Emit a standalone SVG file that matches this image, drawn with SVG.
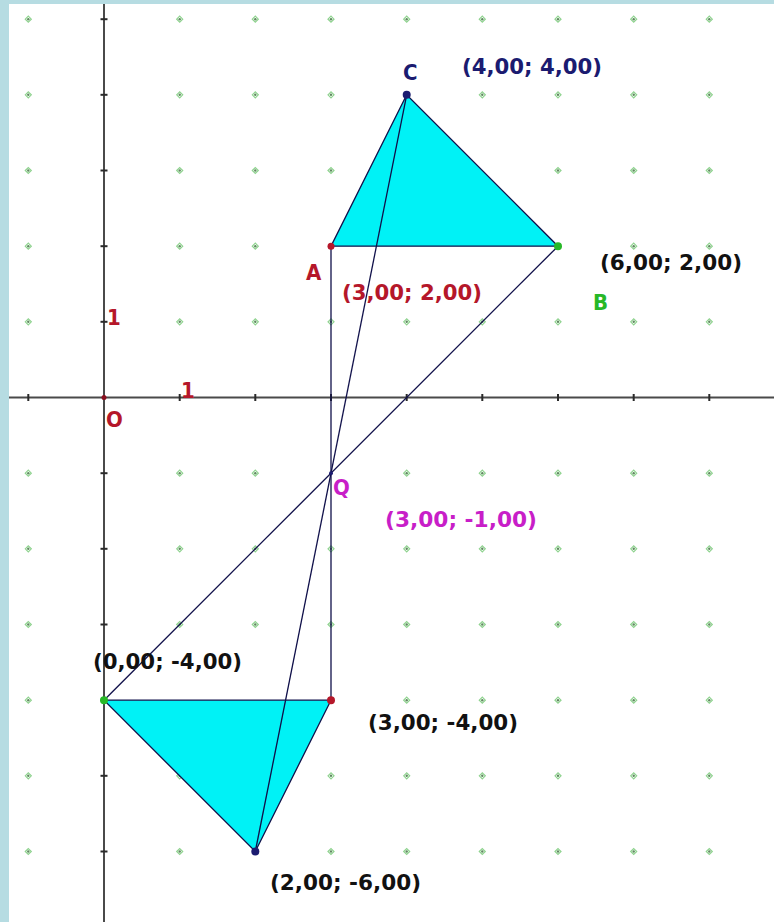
<svg xmlns="http://www.w3.org/2000/svg" xmlns:xlink="http://www.w3.org/1999/xlink" width="774" height="922" viewBox="0 0 774 922">
<style>
text{font-family:"DejaVu Sans Condensed","DejaVu Sans","Liberation Sans",sans-serif;font-weight:bold;font-size:21px}
.big{font-size:22px}
.axis{stroke:#4a4a4a;stroke-width:2;fill:none}
.tick{stroke:#2a2a2a;stroke-width:2}
.seg{stroke:#10104a;stroke-width:1.3;fill:none}
.tri{fill:#00f2f6;stroke:#10104a;stroke-width:1.3}
.red{fill:#b5172a}.navy{fill:#1b1b70}.green{fill:#27b827}.mag{fill:#c81ec8}.blk{fill:#111}
</style>
<defs>
<g id="dot"><path d="M-3 0L0 -3L3 0L0 3Z" fill="none" stroke="#8fd38f" stroke-width="1.2"/><circle r="1.2" fill="#5f8a5f"/></g>
<g id="tx"><line x1="0" y1="-3.5" x2="0" y2="3.5" class="tick"/></g>
<g id="ty"><line x1="-3.5" y1="0" x2="3.5" y2="0" class="tick"/></g>
</defs>
<rect width="774" height="922" fill="#ffffff"/>
<rect x="0" y="0" width="774" height="4" fill="#b6dce2"/>
<rect x="0" y="0" width="9" height="922" fill="#b6dce2"/>
<g id="grid">
<use href="#dot" x="28.3" y="19.2"/><use href="#dot" x="179.7" y="19.2"/><use href="#dot" x="255.3" y="19.2"/><use href="#dot" x="331" y="19.2"/><use href="#dot" x="406.7" y="19.2"/><use href="#dot" x="482.3" y="19.2"/><use href="#dot" x="558" y="19.2"/><use href="#dot" x="633.7" y="19.2"/><use href="#dot" x="709.3" y="19.2"/>
<use href="#dot" x="28.3" y="94.8"/><use href="#dot" x="179.7" y="94.8"/><use href="#dot" x="255.3" y="94.8"/><use href="#dot" x="331" y="94.8"/><use href="#dot" x="482.3" y="94.8"/><use href="#dot" x="558" y="94.8"/><use href="#dot" x="633.7" y="94.8"/><use href="#dot" x="709.3" y="94.8"/>
<use href="#dot" x="28.3" y="170.5"/><use href="#dot" x="179.7" y="170.5"/><use href="#dot" x="255.3" y="170.5"/><use href="#dot" x="331" y="170.5"/><use href="#dot" x="558" y="170.5"/><use href="#dot" x="633.7" y="170.5"/><use href="#dot" x="709.3" y="170.5"/>
<use href="#dot" x="28.3" y="246.2"/><use href="#dot" x="179.7" y="246.2"/><use href="#dot" x="255.3" y="246.2"/><use href="#dot" x="633.7" y="246.2"/><use href="#dot" x="709.3" y="246.2"/>
<use href="#dot" x="28.3" y="321.8"/><use href="#dot" x="179.7" y="321.8"/><use href="#dot" x="255.3" y="321.8"/><use href="#dot" x="331" y="321.8"/><use href="#dot" x="406.7" y="321.8"/><use href="#dot" x="482.3" y="321.8"/><use href="#dot" x="558" y="321.8"/><use href="#dot" x="633.7" y="321.8"/><use href="#dot" x="709.3" y="321.8"/>
<use href="#dot" x="28.3" y="473.2"/><use href="#dot" x="179.7" y="473.2"/><use href="#dot" x="255.3" y="473.2"/><use href="#dot" x="406.7" y="473.2"/><use href="#dot" x="482.3" y="473.2"/><use href="#dot" x="558" y="473.2"/><use href="#dot" x="633.7" y="473.2"/><use href="#dot" x="709.3" y="473.2"/>
<use href="#dot" x="28.3" y="548.8"/><use href="#dot" x="179.7" y="548.8"/><use href="#dot" x="255.3" y="548.8"/><use href="#dot" x="331" y="548.8"/><use href="#dot" x="406.7" y="548.8"/><use href="#dot" x="482.3" y="548.8"/><use href="#dot" x="558" y="548.8"/><use href="#dot" x="633.7" y="548.8"/><use href="#dot" x="709.3" y="548.8"/>
<use href="#dot" x="28.3" y="624.5"/><use href="#dot" x="179.7" y="624.5"/><use href="#dot" x="255.3" y="624.5"/><use href="#dot" x="331" y="624.5"/><use href="#dot" x="406.7" y="624.5"/><use href="#dot" x="482.3" y="624.5"/><use href="#dot" x="558" y="624.5"/><use href="#dot" x="633.7" y="624.5"/><use href="#dot" x="709.3" y="624.5"/>
<use href="#dot" x="28.3" y="700.2"/><use href="#dot" x="406.7" y="700.2"/><use href="#dot" x="482.3" y="700.2"/><use href="#dot" x="558" y="700.2"/><use href="#dot" x="633.7" y="700.2"/><use href="#dot" x="709.3" y="700.2"/>
<use href="#dot" x="28.3" y="775.8"/><use href="#dot" x="179.7" y="775.8"/><use href="#dot" x="331" y="775.8"/><use href="#dot" x="406.7" y="775.8"/><use href="#dot" x="482.3" y="775.8"/><use href="#dot" x="558" y="775.8"/><use href="#dot" x="633.7" y="775.8"/><use href="#dot" x="709.3" y="775.8"/>
<use href="#dot" x="28.3" y="851.5"/><use href="#dot" x="179.7" y="851.5"/><use href="#dot" x="331" y="851.5"/><use href="#dot" x="406.7" y="851.5"/><use href="#dot" x="482.3" y="851.5"/><use href="#dot" x="558" y="851.5"/><use href="#dot" x="633.7" y="851.5"/><use href="#dot" x="709.3" y="851.5"/>
</g>
<g id="axes">
<line x1="9" y1="397.5" x2="774" y2="397.5" class="axis"/>
<line x1="104" y1="4" x2="104" y2="922" class="axis"/>
<use href="#tx" x="28.3" y="397.5"/><use href="#tx" x="179.7" y="397.5"/><use href="#tx" x="255.3" y="397.5"/><use href="#tx" x="331" y="397.5"/><use href="#tx" x="406.7" y="397.5"/><use href="#tx" x="482.3" y="397.5"/><use href="#tx" x="558" y="397.5"/><use href="#tx" x="633.7" y="397.5"/><use href="#tx" x="709.3" y="397.5"/>
<use href="#ty" x="104" y="19.2"/><use href="#ty" x="104" y="94.8"/><use href="#ty" x="104" y="170.5"/><use href="#ty" x="104" y="246.2"/><use href="#ty" x="104" y="321.8"/><use href="#ty" x="104" y="473.2"/><use href="#ty" x="104" y="548.8"/><use href="#ty" x="104" y="624.5"/><use href="#ty" x="104" y="700.2"/><use href="#ty" x="104" y="775.8"/><use href="#ty" x="104" y="851.5"/>
<circle cx="104" cy="397.5" r="2.5" fill="#8a1020"/>
<text x="107" y="325" class="red big">1</text>
<text x="181" y="398" class="red big">1</text>
<text x="106" y="427" class="red big">O</text>
</g>
<g id="triangles">
<polygon points="406.7,94.8 331,246.2 558,246.2" class="tri"/>
<polygon points="104,700.2 331,700.2 255.3,851.5" class="tri"/>
</g>
<g id="connectors">
<line x1="331" y1="246.2" x2="331" y2="700.2" class="seg"/>
<line x1="558" y1="246.2" x2="104" y2="700.2" class="seg"/>
<line x1="406.7" y1="94.8" x2="255.3" y2="851.5" class="seg"/>
</g>
<g id="C"><circle cx="406.7" cy="94.8" r="4" class="navy"/><text x="403" y="80" class="navy big">C</text><text x="462" y="74" class="navy" textLength="140" lengthAdjust="spacingAndGlyphs">(4,00; 4,00)</text></g>
<g id="A"><circle cx="331" cy="246.2" r="3.5" class="red"/><text x="306" y="280" class="red big">A</text><text x="342" y="300" class="red" textLength="140" lengthAdjust="spacingAndGlyphs">(3,00; 2,00)</text></g>
<g id="B"><circle cx="558" cy="246.2" r="4" class="green"/><text x="600" y="270" class="blk" textLength="142" lengthAdjust="spacingAndGlyphs">(6,00; 2,00)</text><text x="593" y="310" class="green big">B</text></g>
<g id="Q"><circle cx="331" cy="473.2" r="2" class="navy"/><text x="333" y="495" class="mag big">Q</text><text x="385" y="527" class="mag" textLength="152" lengthAdjust="spacingAndGlyphs">(3,00; -1,00)</text></g>
<g id="P1"><circle cx="104" cy="700.2" r="4" class="green"/><text x="93" y="669" class="blk" textLength="149" lengthAdjust="spacingAndGlyphs">(0,00; -4,00)</text></g>
<g id="P2"><circle cx="331" cy="700.2" r="4" class="red"/><text x="368" y="730" class="blk" textLength="150" lengthAdjust="spacingAndGlyphs">(3,00; -4,00)</text></g>
<g id="P3"><circle cx="255.3" cy="851.5" r="4" class="navy"/><text x="270" y="890" class="blk" textLength="151" lengthAdjust="spacingAndGlyphs">(2,00; -6,00)</text></g>
</svg>
